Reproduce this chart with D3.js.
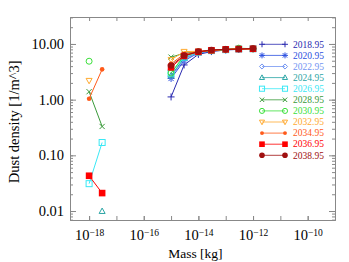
<!DOCTYPE html>
<html>
<head>
<meta charset="utf-8">
<script src="https://cdn.jsdelivr.net/npm/d3@7"></script>
<style>
  body { margin: 0; background: #fff; }
  text { font-family: "Liberation Serif", "DejaVu Serif", serif; }
</style>
</head>
<body>
<div id="chart"></div>
<script>
// mass grid [kg]
var masses = [1e-18, 3e-18, 1e-17, 1e-16, 1e-15, 3e-15, 1e-14, 3e-14, 1e-13, 3e-13, 1e-12];

var years = ["2018.95", "2020.95", "2022.95", "2024.95", "2026.95", "2028.95",
             "2030.95", "2032.95", "2034.95", "2036.95", "2038.95"];

var colors = ["#2a2ab0", "#2c50e0", "#7395f2", "#2aa5a5", "#3ae8f5", "#3a9a3a",
              "#3ae03a", "#ffaa30", "#ff5a1a", "#ff0000", "#a01010"];

var symbols = ["plus", "star", "diamond", "triangle", "square", "cross",
               "circle", "triangleDown", "dot", "squareFilled", "circleFilled"];

// dust density [1/m^3], null where nothing was measured
var d2018 = [null, null, null, null, 1.12, 4.2, 6.5, 7.3, 7.8, 8.0, 8.2];
var d2020 = [null, null, null, null, 2.4, 5.0, 6.9, 7.5, 7.9, 8.1, 8.2];
var d2022 = [null, null, null, null, 2.6, 5.3, 7.0, 7.5, 7.9, 8.1, 8.2];
var d2024 = [null, 0.0099, null, null, 2.7, 5.6, 7.1, 7.5, 7.9, 8.1, 8.2];
var d2026 = [0.031, 0.17, null, null, 3.0, 5.8, 7.1, 7.6, 7.9, 8.1, 8.2];
var d2028 = [1.39, 0.33, null, null, 5.8, 6.8, 7.2, 7.6, 7.9, 8.2, 8.2];
var d2030 = [4.9, null, null, null, 3.0, 6.2, 7.2, 7.6, 8.0, 8.4, 8.2];
var d2032 = [2.2, null, null, null, 5.2, 7.3, 7.4, 7.7, 8.0, 8.2, 8.1];
var d2034 = [1.04, 3.5, null, null, 4.4, 6.6, 7.3, 7.7, 8.0, 8.1, 8.2];
var d2036 = [0.043, 0.021, null, null, 3.8, 6.1, 7.2, 7.7, 8.0, 8.1, 8.2];
var d2038 = [null, null, null, null, 4.1, 6.2, 7.3, 7.8, 8.0, 8.1, 8.3];

var densities = [d2018, d2020, d2022, d2024, d2026, d2028, d2030, d2032, d2034, d2036, d2038];

var yTicks = [0.01, 0.1, 1, 10];
var xTicks = [1e-18, 1e-16, 1e-14, 1e-12, 1e-10];

var width = 349, height = 262;
var margin = { top: 17, right: 14, bottom: 42, left: 70 };
var w = width - margin.left - margin.right;
var h = height - margin.top - margin.bottom;
var axisColor = "#888";

var svg = d3.select("#chart").append("svg")
  .attr("width", width)
  .attr("height", height);

var g = svg.append("g")
  .attr("transform", "translate(" + margin.left + "," + margin.top + ")");

var x = d3.scaleLog().domain([2e-19, 1e-9]).range([0, w]);
var y = d3.scaleLog().domain([0.0069, 30.5]).range([h, 0]);

// minor ticks
var xMinor = d3.range(-18, -9).map(function (e) { return Math.pow(10, e); });
var yMinor = [];
[-3, -2, -1, 0, 1].forEach(function (e) {
  for (var k = 1; k < 10; k++) {
    var v = k * Math.pow(10, e);
    if (v >= y.domain()[0] && v <= y.domain()[1]) yMinor.push(v);
  }
});

function styleAxis(sel) {
  sel.select(".domain").attr("stroke", axisColor);
  sel.selectAll(".tick line").attr("stroke", axisColor);
  sel.selectAll("text").attr("fill", "#000");
}

// frame and ticks
g.append("g").call(d3.axisBottom(x).tickValues(xMinor).tickSizeInner(-4).tickSizeOuter(0).tickFormat(""))
  .attr("transform", "translate(0," + h + ")").call(styleAxis);
g.append("g").call(d3.axisTop(x).tickValues(xMinor).tickSizeInner(-4).tickSizeOuter(0).tickFormat(""))
  .call(styleAxis);
g.append("g").call(d3.axisLeft(y).tickValues(yMinor).tickSizeInner(-3).tickSizeOuter(0).tickFormat(""))
  .call(styleAxis);
g.append("g").call(d3.axisRight(y).tickValues(yMinor).tickSizeInner(-3).tickSizeOuter(0).tickFormat(""))
  .attr("transform", "translate(" + w + ",0)").call(styleAxis);
g.append("g").call(d3.axisLeft(y).tickValues(yTicks).tickSizeInner(-6).tickSizeOuter(0).tickPadding(6)
    .tickFormat(d3.format(".2f")))
  .call(styleAxis)
  .selectAll("text").attr("font-size", "14.5px").attr("font-family", "Liberation Serif");
g.append("g").call(d3.axisRight(y).tickValues(yTicks).tickSizeInner(-6).tickSizeOuter(0).tickFormat(""))
  .attr("transform", "translate(" + w + ",0)").call(styleAxis);

var xAxis = g.append("g").attr("transform", "translate(0," + h + ")")
  .call(d3.axisBottom(x).tickValues(xTicks).tickSizeInner(-4).tickSizeOuter(0).tickPadding(10).tickFormat(""))
  .call(styleAxis);
xAxis.selectAll(".tick text").each(function (d) {
  var t = d3.select(this).attr("font-size", "14.5px").attr("font-family", "Liberation Serif");
  t.append("tspan").text("10");
  t.append("tspan").attr("dy", "-0.45em").attr("font-size", "9.5px").text("\u2212" + Math.round(-Math.log10(d)));
});

// axis titles
svg.append("text")
  .attr("x", margin.left + x(1e-14) - 3)
  .attr("y", 258)
  .attr("text-anchor", "middle")
  .attr("font-size", "13.5px")
  .text("Mass [kg]");

svg.append("text")
  .attr("transform", "translate(19," + (margin.top + y(0.4)) + ") rotate(-90)")
  .attr("text-anchor", "middle")
  .attr("font-size", "14.5px")
  .text("Dust density [1/m^3]");

// markers
function drawMarker(sel, type, color, cx, cy, k) {
  k = k || 1;
  var s = 2.6 * k, p = 3.5 * k, a = 3 * k, r = 3 * k;
  if (type === "plus") {
    sel.append("path").attr("d", "M" + (cx - p) + "," + cy + "h" + 2 * p + "M" + cx + "," + (cy - p) + "v" + 2 * p)
      .attr("stroke", color).attr("fill", "none");
  } else if (type === "cross") {
    sel.append("path").attr("d", "M" + (cx - s) + "," + (cy - s) + "l" + 2 * s + "," + 2 * s + "M" + (cx - s) + "," + (cy + s) + "l" + 2 * s + "," + (-2 * s))
      .attr("stroke", color).attr("fill", "none");
  } else if (type === "star") {
    sel.append("path").attr("d", "M" + (cx - s) + "," + (cy - s) + "l" + 2 * s + "," + 2 * s + "M" + (cx - s) + "," + (cy + s) + "l" + 2 * s + "," + (-2 * s) +
      "M" + (cx - p) + "," + cy + "h" + 2 * p + "M" + cx + "," + (cy - p) + "v" + 2 * p)
      .attr("stroke", color).attr("fill", "none");
  } else if (type === "diamond") {
    sel.append("path").attr("d", "M" + cx + "," + (cy - a) + "l" + a + "," + a + "l" + (-a) + "," + a + "l" + (-a) + "," + (-a) + "z")
      .attr("stroke", color).attr("fill", "none");
  } else if (type === "triangle") {
    sel.append("path").attr("d", "M" + cx + "," + (cy - 1.07 * a) + "l" + a + "," + 1.8 * a + "h" + (-2 * a) + "z")
      .attr("stroke", color).attr("fill", "none");
  } else if (type === "triangleDown") {
    sel.append("path").attr("d", "M" + cx + "," + (cy + 1.07 * a) + "l" + a + "," + (-1.8 * a) + "h" + (-2 * a) + "z")
      .attr("stroke", color).attr("fill", "none");
  } else if (type === "square") {
    sel.append("rect").attr("x", cx - a).attr("y", cy - a).attr("width", 2 * a).attr("height", 2 * a)
      .attr("stroke", color).attr("fill", "none");
  } else if (type === "squareFilled") {
    sel.append("rect").attr("x", cx - 1.1 * a).attr("y", cy - 1.1 * a).attr("width", 2.2 * a).attr("height", 2.2 * a)
      .attr("fill", color);
  } else if (type === "circle") {
    sel.append("circle").attr("cx", cx).attr("cy", cy).attr("r", r)
      .attr("stroke", color).attr("fill", "none");
  } else if (type === "dot") {
    sel.append("circle").attr("cx", cx).attr("cy", cy).attr("r", 2.3 * k).attr("fill", color);
  } else if (type === "circleFilled") {
    sel.append("circle").attr("cx", cx).attr("cy", cy).attr("r", 1.1 * r).attr("fill", color);
  }
}

var line = d3.line()
  .defined(function (d) { return d[1] != null; })
  .x(function (d) { return x(d[0]); })
  .y(function (d) { return y(d[1]); });

var plot = g.append("g");
densities.forEach(function (vals, i) {
  var pts = masses.map(function (m, j) { return [m, vals[j]]; });
  var sg = plot.append("g");
  sg.append("path").attr("d", line(pts))
    .attr("fill", "none").attr("stroke", colors[i]).attr("stroke-width", 1);
  pts.forEach(function (p) {
    if (p[1] != null) drawMarker(sg, symbols[i], colors[i], x(p[0]), y(p[1]));
  });
});

// legend
var legend = svg.append("g");
years.forEach(function (yr, i) {
  var ly = 44.3 + i * 11.1;
  legend.append("line").attr("x1", 262).attr("x2", 285).attr("y1", ly).attr("y2", ly)
    .attr("stroke", colors[i]).attr("stroke-width", 0.8);
  drawMarker(legend, symbols[i], colors[i], 262, ly, 0.85);
  drawMarker(legend, symbols[i], colors[i], 285, ly, 0.85);
  legend.append("text").attr("x", 293).attr("y", ly + 3.2)
    .attr("font-size", "9.5px").attr("fill", colors[i]).text(yr);
});
</script>
</body>
</html>
